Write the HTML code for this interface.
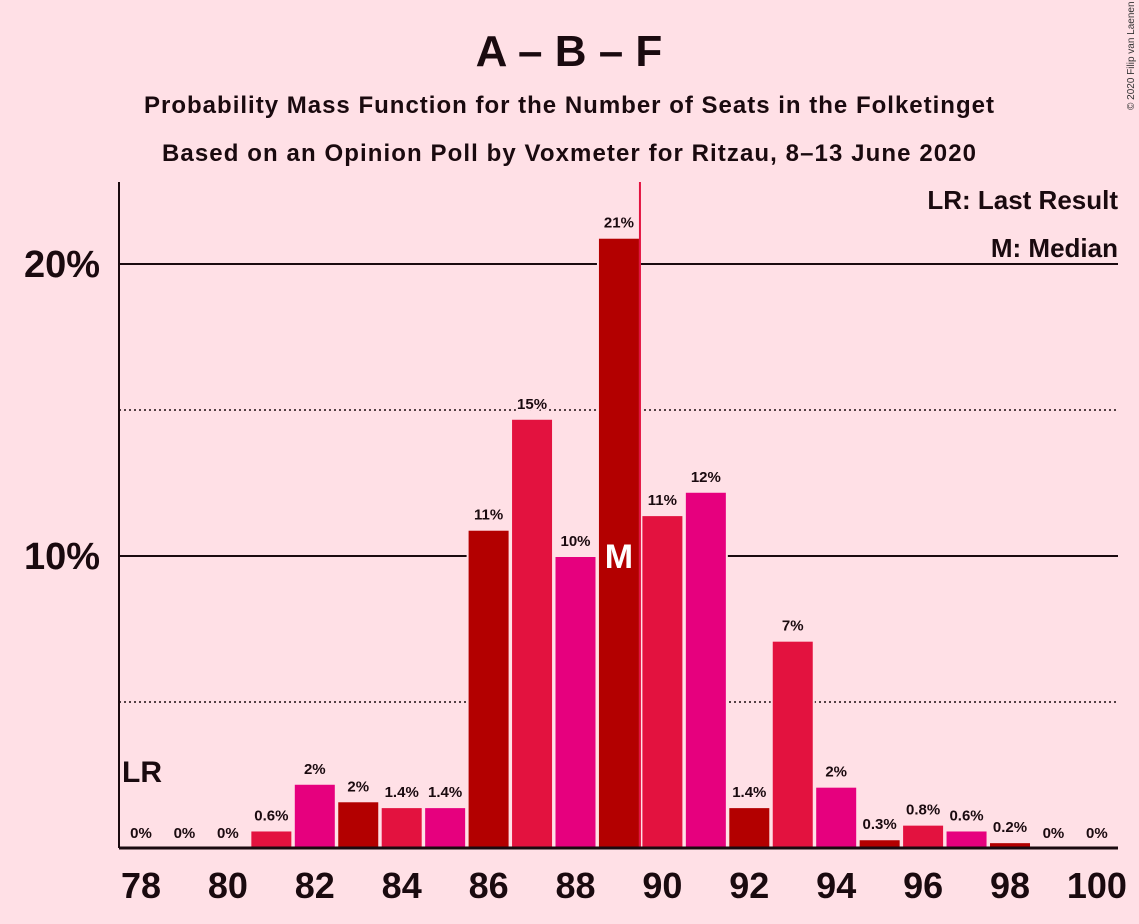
<!DOCTYPE html>
<html><head><meta charset="utf-8"><style>
body{margin:0;background:#ffe0e6;}
svg{display:block;font-family:"Liberation Sans",sans-serif;}
</style></head><body>
<svg id="c" width="1139" height="924" viewBox="0 0 1139 924">
<rect width="1139" height="924" fill="#ffe0e6"/>
<text x="569" y="66" text-anchor="middle" font-size="44" font-weight="bold" fill="#1a0a0f">A – B – F</text>
<text x="569" y="113" text-anchor="middle" font-size="24" font-weight="bold" fill="#1a0a0f" textLength="850">Probability Mass Function for the Number of Seats in the Folketinget</text>
<text x="569" y="161" text-anchor="middle" font-size="24" font-weight="bold" fill="#1a0a0f" textLength="814">Based on an Opinion Poll by Voxmeter for Ritzau, 8–13 June 2020</text>
<text x="1134" y="110" font-size="10" fill="#333" transform="rotate(-90 1134 110)">© 2020 Filip van Laenen</text>
<g id="grid"></g>
<g id="bars"></g>
<line x1="119" y1="182" x2="119" y2="848" stroke="#1a0a0f" stroke-width="2"/>
<line x1="119" y1="848" x2="1118" y2="848" stroke="#1a0a0f" stroke-width="3"/>
<g id="ticks"></g>
<text x="1118" y="209" text-anchor="end" font-size="26" font-weight="bold" fill="#1a0a0f">LR: Last Result</text>
<text x="1118" y="257" text-anchor="end" font-size="26" font-weight="bold" fill="#1a0a0f">M: Median</text>
<text x="122" y="782" font-size="30" font-weight="bold" fill="#1a0a0f">LR</text>
</svg>
<script>
const seats=[78,79,80,81,82,83,84,85,86,87,88,89,90,91,92,93,94,95,96,97,98,99,100];
const probs=[0,0,0,0.6,2.2,1.6,1.4,1.4,10.9,14.7,10.0,20.9,11.4,12.2,1.4,7.1,2.1,0.3,0.8,0.6,0.2,0,0];
const labels=["0%","0%","0%","0.6%","2%","2%","1.4%","1.4%","11%","15%","10%","21%","11%","12%","1.4%","7%","2%","0.3%","0.8%","0.6%","0.2%","0%","0%"];
const yTicks=[10,20];
const yDotted=[5,15];
const xTicks=[78,80,82,84,86,88,90,92,94,96,98,100];
const medianSeat=89;
const ns="http://www.w3.org/2000/svg";
const X=s=>141+(s-78)*43.45;
const Y=p=>848-p*29.2;
const colors=["#b30000","#e3123f","#e6007e"];
function mk(t,a,par){const e=document.createElementNS(ns,t);for(const k in a)e.setAttribute(k,a[k]);document.getElementById(par).appendChild(e);return e;}
yDotted.forEach(v=>{
 const l=mk("line",{x1:119,x2:1118,y1:Y(v),y2:Y(v),stroke:"#1a0a0f","stroke-width":1.5,"stroke-dasharray":"2,3"},"grid");
 
 
});
yTicks.forEach(v=>{
 const l=mk("line",{x1:119,x2:1118,y1:Y(v),y2:Y(v),stroke:"#1a0a0f","stroke-width":2},"grid");
 
 
 const t=mk("text",{x:100,y:Y(v)+13,"text-anchor":"end","font-size":38,"font-weight":"bold",fill:"#1a0a0f"},"ticks");
 t.textContent=v+"%";
 
 
});
seats.forEach((s,i)=>{
 const p=probs[i];
 if(p>0){
  const r=mk("rect",{x:X(s)-21,y:Y(p),width:42,height:848-Y(p),fill:colors[(s-80+300)%3],stroke:"#ffe0e6","stroke-width":2},"bars");
  
  
 }
 const t=mk("text",{x:X(s),y:Y(p)-10,"text-anchor":"middle","font-size":15,"font-weight":"bold",fill:"#1a0a0f",stroke:"#ffe0e6","stroke-width":4,"paint-order":"stroke"},"bars");
 t.textContent=labels[i];
 
 
});
const ml=mk("line",{x1:X(medianSeat)+21,x2:X(medianSeat)+21,y1:182,y2:848,stroke:"#e3123f","stroke-width":2},"bars");


const mt=mk("text",{x:X(medianSeat),y:Y(10)+12,"text-anchor":"middle","font-size":34,"font-weight":"bold",fill:"#ffffff"},"bars");
mt.textContent="M";


xTicks.forEach(s=>{
 const t=mk("text",{x:X(s),y:898,"text-anchor":"middle","font-size":36,"font-weight":"bold",fill:"#1a0a0f"},"ticks");
 t.textContent=s;
 
 
});
</script>
</body></html>
